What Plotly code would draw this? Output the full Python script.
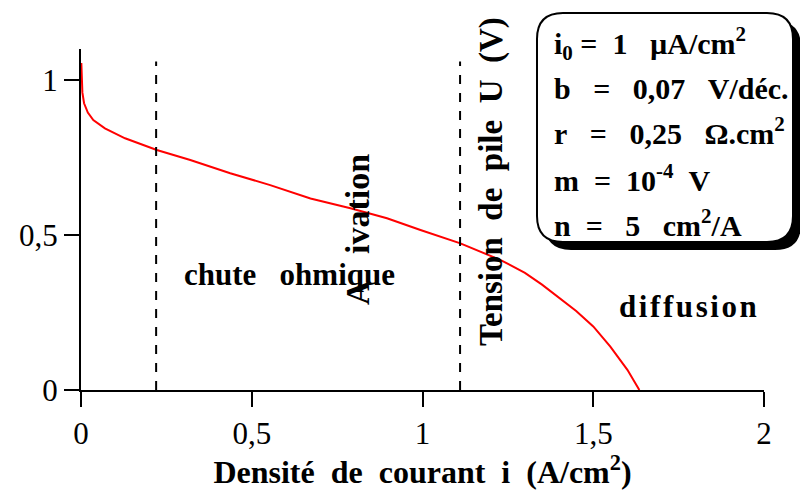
import plotly.graph_objects as go

# Data
current = [0.001, 0.004, 0.009, 0.02, 0.036, 0.070, 0.129, 0.222, 0.320, 0.437,
           0.554, 0.672, 0.789, 0.896, 0.994, 1.111, 1.229, 1.30, 1.35, 1.40,
           1.45, 1.50, 1.55, 1.60, 1.635]
voltage = [1.055, 0.96, 0.925, 0.895, 0.871, 0.844, 0.812, 0.774, 0.742, 0.699,
           0.661, 0.618, 0.586, 0.554, 0.516, 0.473, 0.419, 0.378, 0.340, 0.298,
           0.255, 0.205, 0.140, 0.065, 0.0]
boundaries = [0.22, 1.11]
boundary_top = 1.06
x_ticks = [0, 0.5, 1, 1.5, 2]
x_ticklabels = ["0", "0,5", "1", "1,5", "2"]
y_ticks = [0, 0.5, 1]
y_ticklabels = ["0", "0,5", "1"]
S1 = "\u00a0"
S2 = "\u00a0\u00a0"
S3 = "\u00a0\u00a0\u00a0"
params = [f"i<sub>0</sub>{S1}={S2}1{S3}µA/cm<sup>2</sup>",
          f"b{S3}={S3}0,07{S3}V/déc.",
          f"r{S3}={S3}0,25{S3}Ω.cm<sup>2</sup>",
          f"m{S2}={S2}10<sup>-4</sup>{S2}V",
          f"n{S2}={S3}5{S3}cm<sup>2</sup>/A"]

W, H = 800, 490
L, R, T, B = 81, 36, 49, 100
PW, PH = W - L - R, H - T - B

def px(x):
    return (x - L) / PW

def py(y):
    return (H - B - y) / PH

SERIF = "'Liberation Serif', 'Times New Roman', Times, serif"

fig = go.Figure()
fig.add_trace(go.Scatter(x=current, y=voltage, mode="lines",
                         line=dict(color="#ff0000", width=2), showlegend=False,
                         hoverinfo="skip"))
for b in boundaries:
    fig.add_trace(go.Scatter(x=[b, b], y=[0, boundary_top], mode="lines",
                             line=dict(color="black", width=2, dash="9px,9px"),
                             showlegend=False, hoverinfo="skip"))

def rrect(x0, y0, x1, y1, r):
    def P(x, y):
        return f"{px(x):.5f},{py(y):.5f}"
    return (f"M {P(x0 + r, y0)} L {P(x1 - r, y0)} Q {P(x1, y0)} {P(x1, y0 + r)} "
            f"L {P(x1, y1 - r)} Q {P(x1, y1)} {P(x1 - r, y1)} "
            f"L {P(x0 + r, y1)} Q {P(x0, y1)} {P(x0, y1 - r)} "
            f"L {P(x0, y0 + r)} Q {P(x0, y0)} {P(x0 + r, y0)} Z")

shapes = [
    dict(type="path", xref="paper", yref="paper", path=rrect(545, 21, 801, 250, 26),
         fillcolor="black", line=dict(color="black", width=0)),
    dict(type="path", xref="paper", yref="paper", path=rrect(537, 13, 793, 242, 26),
         fillcolor="white", line=dict(color="black", width=2)),
]

annotations = []
line_y = [43, 88, 131, 178, 223]
for t, yy in zip(params, line_y):
    annotations.append(dict(text=f"<b>{t}</b>", xref="paper", yref="paper",
                            x=px(552), y=py(yy), xanchor="left", yanchor="middle",
                            showarrow=False, font=dict(family=SERIF, size=30, color="black")))

annotations.append(dict(text="<b>A<span style='color:white'>ct</span>ivation</b>",
                        xref="paper", yref="paper",
                        x=px(357), y=py(230), xanchor="center", yanchor="middle",
                        textangle=-90, showarrow=False,
                        font=dict(family=SERIF, size=34, color="black")))
annotations.append(dict(text=f"<b>chute{S3}ohmique</b>", xref="paper", yref="paper",
                        x=px(289), y=py(274), xanchor="center", yanchor="middle",
                        showarrow=False,
                        font=dict(family=SERIF, size=31, color="black")))
annotations.append(dict(text=f"<b>Tension{S2}de{S2}pile{S2}U{S2}(V)</b>",
                        xref="paper", yref="paper",
                        x=px(491), y=py(182), xanchor="center", yanchor="middle",
                        textangle=-90, showarrow=False,
                        font=dict(family=SERIF, size=33, color="black")))
annotations.append(dict(text="<b>d\u200ai\u200af\u200af\u200au\u200as\u200ai\u200ao\u200an</b>",
                        xref="paper", yref="paper",
                        x=px(688), y=py(306), xanchor="center", yanchor="middle",
                        showarrow=False,
                        font=dict(family=SERIF, size=31, color="black")))

fig.update_layout(
    width=W, height=H, margin=dict(l=L, r=R, t=T, b=B, autoexpand=False),
    paper_bgcolor="white", plot_bgcolor="white",
    font=dict(family=SERIF, color="black"),
    shapes=shapes, annotations=annotations,
    xaxis=dict(range=[0, 2], tickvals=x_ticks, ticktext=x_ticklabels, automargin=False,
               showgrid=False, zeroline=False, showline=True, linecolor="black",
               linewidth=2, ticks="outside", ticklen=15, tickwidth=2, tickcolor="black",
               tickfont=dict(family=SERIF, size=31, color="black"),
               title=dict(text=f"<b>Densité{S2}de{S2}courant{S2}i{S2}(A/cm<sup>2</sup>)</b>",
                          font=dict(family=SERIF, size=32, color="black"), standoff=4)),
    yaxis=dict(range=[0, 1.1], tickvals=y_ticks, ticktext=y_ticklabels, automargin=False,
               showgrid=False, zeroline=False, showline=True, linecolor="black",
               linewidth=2, ticks="outside", ticklen=15, tickwidth=2, tickcolor="black",
               tickfont=dict(family=SERIF, size=31, color="black")),
)

fig.write_html("out.html")
